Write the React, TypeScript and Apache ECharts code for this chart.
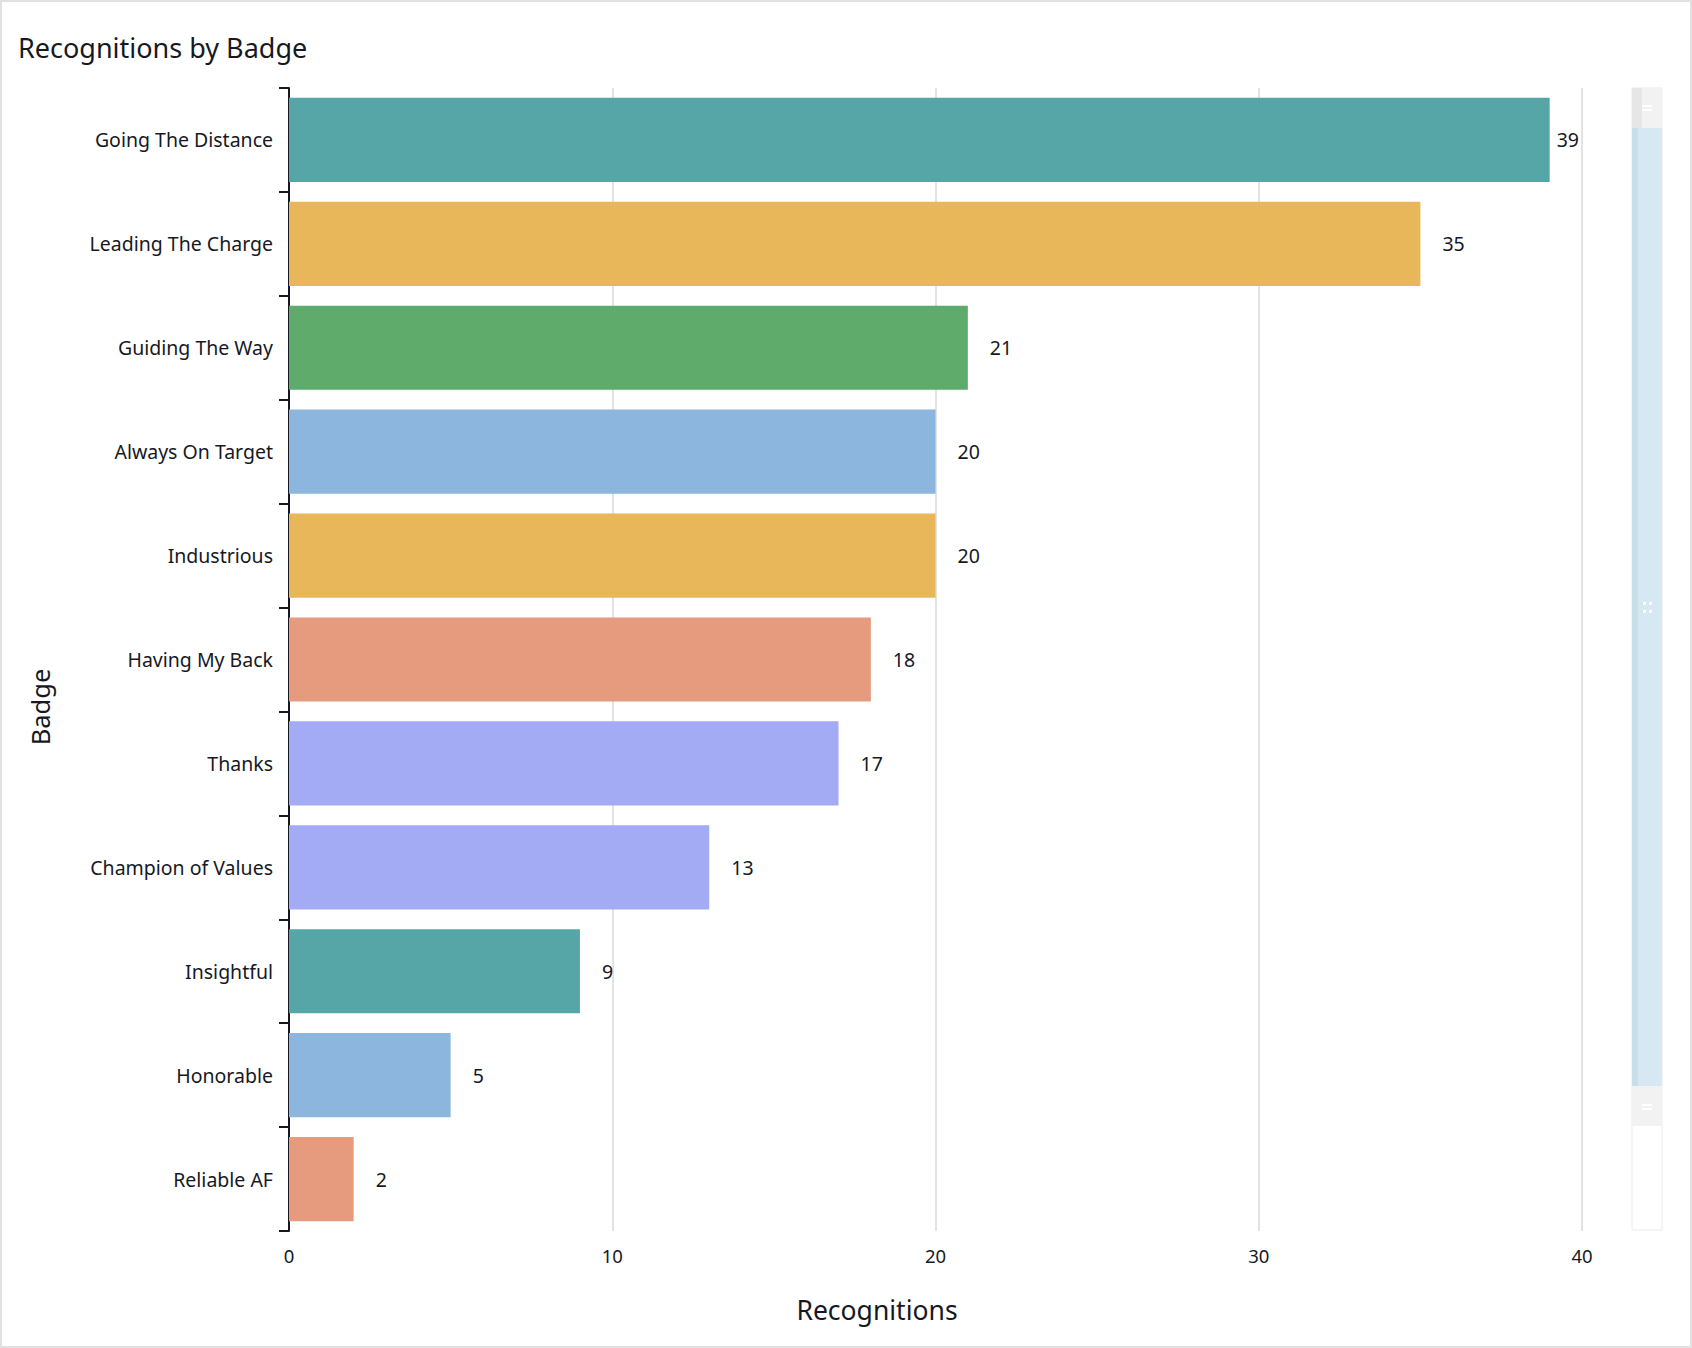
import React, { useEffect, useRef } from "react";
import * as echarts from "echarts";

const categories = [
  "Going The Distance",
  "Leading The Charge",
  "Guiding The Way",
  "Always On Target",
  "Industrious",
  "Having My Back",
  "Thanks",
  "Champion of Values",
  "Insightful",
  "Honorable",
  "Reliable AF",
];
const values = [39, 35, 21, 20, 20, 18, 17, 13, 9, 5, 2];
const barColors = [
  "#56a5a7",
  "#e8b75a",
  "#5eab6b",
  "#8db6de",
  "#e8b75a",
  "#e69a7e",
  "#a4abf5",
  "#a4abf5",
  "#56a5a7",
  "#8db6de",
  "#e69a7e",
];
const xTicks = [0, 10, 20, 30, 40];

const TEXT = "#16191f";
const FONT = "'Noto Sans', sans-serif";

export default function App() {
  const ref = useRef<HTMLDivElement>(null);
  useEffect(() => {
    if (!ref.current) return;
    const chart = echarts.init(ref.current, null, { renderer: "svg" });
    const maxV = Math.max(...values);
    const sx = 1632;
    const sw = 30;
    const option: any = {
      animation: false,
      backgroundColor: "#ffffff",
      textStyle: { fontFamily: FONT },
      title: {
        text: "Recognitions by Badge",
        left: 18,
        top: 34,
        padding: 0,
        textStyle: { fontFamily: FONT, fontSize: 27, fontWeight: "normal", color: TEXT },
      },
      grid: { left: 289, top: 88, width: 1293, height: 1143, containLabel: false },
      xAxis: {
        type: "value",
        min: xTicks[0],
        max: xTicks[xTicks.length - 1],
        interval: 10,
        axisLine: { show: false },
        axisTick: { show: false },
        axisLabel: { fontSize: 18.5, color: TEXT, margin: 15, fontFamily: FONT },
        splitLine: { show: true, lineStyle: { color: "#e3e3e3", width: 2 } },
      },
      yAxis: {
        type: "category",
        inverse: true,
        data: categories,
        axisLine: { show: true, lineStyle: { color: TEXT, width: 2 } },
        axisTick: { show: true, length: 10, lineStyle: { color: TEXT, width: 2 } },
        axisLabel: { fontSize: 19.5, color: TEXT, margin: 16, fontFamily: FONT },
        splitLine: { show: false },
      },
      series: [
        {
          type: "bar",
          barCategoryGap: "19%",
          data: values.map((v, i) => ({
            value: v,
            itemStyle: { color: barColors[i] },
            label: { distance: v === maxV ? 7 : 22 },
          })),
          label: {
            show: true,
            position: "right",
            fontSize: 19.5,
            color: TEXT,
            fontFamily: FONT,
          },
        },
      ],
      graphic: [
        {
          type: "rect",
          silent: true,
          shape: { x: 1, y: 1, width: 1690, height: 1346 },
          style: { fill: "none", stroke: "#e1e1e1", lineWidth: 2 },
        },
        {
          type: "text",
          x: 40,
          y: 707,
          rotation: Math.PI / 2,
          style: {
            text: "Badge",
            fontSize: 25.5,
            fontFamily: FONT,
            fill: TEXT,
            align: "center",
            verticalAlign: "middle",
          },
        },
        {
          type: "text",
          x: 877,
          y: 1310,
          style: {
            text: "Recognitions",
            fontSize: 26.5,
            fontFamily: FONT,
            fill: TEXT,
            align: "center",
            verticalAlign: "middle",
          },
        },
        // slider track
        {
          type: "rect",
          shape: { x: sx, y: 88, width: sw, height: 1142 },
          style: { fill: "#ffffff", stroke: "#ebebeb", lineWidth: 1 },
        },
        // top handle
        { type: "rect", shape: { x: sx, y: 88, width: sw, height: 40 }, style: { fill: "#f2f2f2" } },
        { type: "rect", shape: { x: sx, y: 88, width: 10, height: 40 }, style: { fill: "#e6e6e6" } },
        { type: "rect", shape: { x: sx + 10, y: 105, width: 10, height: 2 }, style: { fill: "#ffffff" } },
        { type: "rect", shape: { x: sx + 10, y: 109, width: 10, height: 2 }, style: { fill: "#ffffff" } },
        // filler
        { type: "rect", shape: { x: sx, y: 128, width: sw, height: 958 }, style: { fill: "#d6e9f2" } },
        { type: "rect", shape: { x: sx, y: 128, width: 6, height: 958 }, style: { fill: "#c8dee8" } },
        { type: "rect", shape: { x: sx + 11, y: 602, width: 3, height: 3 }, style: { fill: "#ffffff" } },
        { type: "rect", shape: { x: sx + 17, y: 602, width: 3, height: 3 }, style: { fill: "#ffffff" } },
        { type: "rect", shape: { x: sx + 11, y: 610, width: 3, height: 3 }, style: { fill: "#ffffff" } },
        { type: "rect", shape: { x: sx + 17, y: 610, width: 3, height: 3 }, style: { fill: "#ffffff" } },
        // bottom handle
        { type: "rect", shape: { x: sx, y: 1086, width: sw, height: 40 }, style: { fill: "#f2f2f2" } },
        { type: "rect", shape: { x: sx + 10, y: 1104, width: 10, height: 2 }, style: { fill: "#ffffff" } },
        { type: "rect", shape: { x: sx + 10, y: 1108, width: 10, height: 2 }, style: { fill: "#ffffff" } },
      ],
    };
    chart.setOption(option);
    return () => chart.dispose();
  }, []);
  return (
    <div
      ref={ref}
      style={{ position: "fixed", left: 0, top: 0, width: 1692, height: 1348, background: "#fff" }}
    />
  );
}
